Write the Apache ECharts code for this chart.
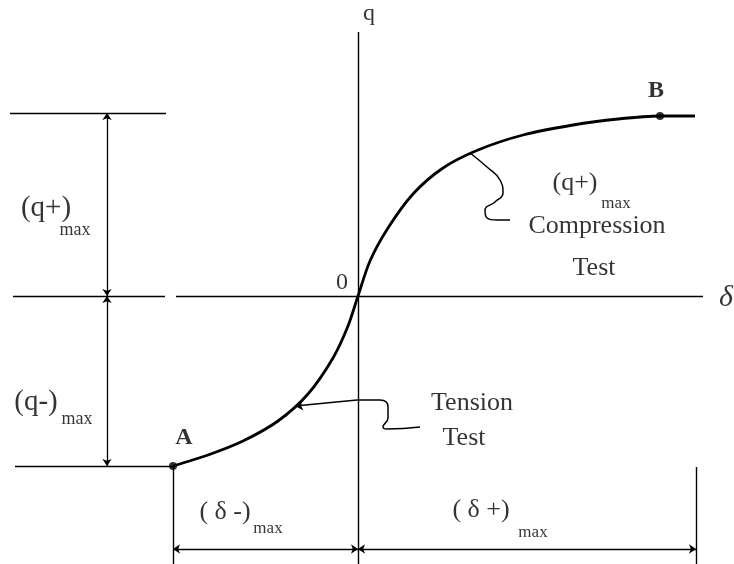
<!DOCTYPE html>
<html>
<head>
<meta charset="utf-8">
<script src="https://cdn.jsdelivr.net/npm/echarts@6/dist/echarts.min.js"></script>
<style>
  html, body { margin: 0; padding: 0; background: #fff; }
  #chart { width: 734px; height: 564px; }
</style>
</head>
<body>
<div id="chart"></div>
<script>
// q - delta curve, tension (A) through origin to compression (B)
const curveDelta = [-185, -150, -115, -80, -50, -25, -10, 0, 12, 30, 55, 85, 120, 165, 215, 260, 302, 337];
const curveQ     = [-170, -159, -145, -125, -98, -62, -30, 0, 35, 68, 102, 128, 146, 161, 171, 177, 180, 180];

const pointA = [-185, -170];
const pointB = [302, 180];

// reference levels
const qPlusMax = 183;
const qMinusMax = -170;
const deltaPlusMax = 338;
const deltaMinusMax = -185;

// leader lines to the curve
const compLeaderDelta = [112, 129, 142, 145, 137, 127, 129, 139, 152];
const compLeaderQ     = [143, 129, 116, 103, 94, 86, 78, 76, 76];
const tensLeaderDelta = [-1, 22, 30, 30, 25, 29, 62];
const tensLeaderQ     = [-104, -104, -111, -122, -131, -133, -131];
const tensArrowTip = [-63, -110];

// text annotations
const labelText  = ['q', 'δ', '0', 'A', 'B', '(q+)', 'max', '(q-)', 'max', '(q+)', 'max', 'Compression', 'Test', 'Tension', 'Test', '( δ -)', 'max', '( δ +)', 'max'];
const labelDelta = [11, 368, -16, -174, 298, -312, -283, -322, -281, 217, 258, 239, 236, 114, 106, -133, -90, 123, 175];
const labelQ     = [282, -2, 13, -142, 205, 88, 66, -106, -123, 113, 92, 70, 28, -107, -142, -216, -233, -214, -237];

const chart = echarts.init(document.getElementById('chart'));

const zip = (xs, ys) => xs.map((x, i) => [x, ys[i]]);
const font = 'Liberation Serif';

const labelData = labelText.map((t, i) => {
  const sub = t === 'max';
  const isDelta = t === 'δ';
  const bold = t === 'A' || t === 'B';
  const left = i >= 5 && i <= 8;
  let size = 26;
  if (sub) size = left ? 18 : 17;
  else if (isDelta) size = 30;
  else if (left) size = 29;
  else if (t === 'q' || t === '0' || bold) size = 24;
  return {
    value: [labelDelta[i], labelQ[i]],
    label: {
      show: true,
      position: 'inside',
      formatter: t,
      color: '#000',
      fontFamily: font,
      fontSize: size,
      fontStyle: isDelta ? 'italic' : 'normal',
      fontWeight: bold ? 'bold' : 'normal'
    }
  };
});

// plain straight segments: axes and extension lines
const plainLines = [
  [[0, 264], [0, -268]],
  [[-182, 0], [345, 0]],
  [[-348, qPlusMax], [-192, qPlusMax]],
  [[-345, 0], [-193, 0]],
  [[-343, qMinusMax], pointA],
  [pointA, [deltaMinusMax, -268]],
  [[deltaPlusMax, -171], [deltaPlusMax, -268]]
];

// dimension lines with arrows
const dimLines = [
  [[-251, qPlusMax], [-251, 0]],
  [[-251, 0], [-251, qMinusMax]],
  [[deltaMinusMax, -253], [0, -253]],
  [[0, -253], [deltaPlusMax, -253]]
];

chart.setOption({
  animation: false,
  backgroundColor: '#fff',
  grid: { left: 0, right: 0, top: 0, bottom: 0 },
  xAxis: { type: 'value', min: -358, max: 376, show: false },
  yAxis: { type: 'value', min: -268, max: 296, show: false },
  series: [
    {
      type: 'lines',
      coordinateSystem: 'cartesian2d',
      symbol: 'none',
      lineStyle: { color: '#000', width: 1.4, opacity: 1 },
      data: plainLines.map(c => ({ coords: c }))
    },
    {
      type: 'lines',
      coordinateSystem: 'cartesian2d',
      symbol: ['arrow', 'arrow'],
      symbolSize: 7,
      lineStyle: { color: '#000', width: 1.3, opacity: 1 },
      data: dimLines.map(c => ({ coords: c }))
    },
    {
      type: 'line',
      data: zip(curveDelta, curveQ),
      smooth: 0.3,
      showSymbol: false,
      lineStyle: { color: '#000', width: 2.8 }
    },
    {
      type: 'line',
      data: zip(compLeaderDelta, compLeaderQ),
      smooth: 0.5,
      showSymbol: false,
      lineStyle: { color: '#000', width: 1.5 }
    },
    {
      type: 'line',
      data: zip(tensLeaderDelta, tensLeaderQ),
      smooth: 0.5,
      showSymbol: false,
      lineStyle: { color: '#000', width: 1.5 }
    },
    {
      type: 'lines',
      coordinateSystem: 'cartesian2d',
      symbol: ['none', 'arrow'],
      symbolSize: 8,
      lineStyle: { color: '#000', width: 1.5, opacity: 1 },
      data: [{ coords: [[tensLeaderDelta[0], tensLeaderQ[0]], tensArrowTip] }]
    },
    {
      type: 'scatter',
      symbolSize: 8,
      itemStyle: { color: '#000' },
      data: [pointA, pointB]
    },
    {
      type: 'scatter',
      symbolSize: 0,
      data: labelData
    }
  ]
});
</script>
</body>
</html>
